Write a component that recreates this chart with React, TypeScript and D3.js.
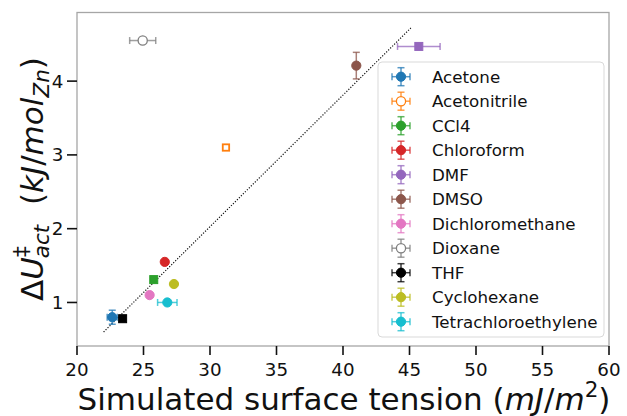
import React from 'react';
import * as d3 from 'd3';

// solvent data
const solvents = ['Acetone', 'Acetonitrile', 'CCl4', 'Chloroform', 'DMF', 'DMSO', 'Dichloromethane', 'Dioxane', 'THF', 'Cyclohexane', 'Tetrachloroethylene'];
const tension = [22.65, 31.2, 25.77, 26.6, 45.7, 41.0, 25.46, 24.94, 23.43, 27.29, 26.79];
const energy = [0.80, 3.10, 1.31, 1.55, 4.47, 4.21, 1.10, 4.55, 0.78, 1.25, 1.00];
const tensionErr = [0.38, 0.12, 0.1, 0.1, 1.6, 0.1, 0.12, 0.98, 0.2, 0.1, 0.73];
const energyErr = [0.095, 0.02, 0.02, 0.02, 0.02, 0.18, 0.02, 0.02, 0.04, 0.02, 0.02];
const markers = ['o', 's', 's', 'o', 's', 'o', 'o', 'o', 's', 'o', 'o'];
const hollow = [false, true, false, false, false, false, false, true, false, false, false];
const colors = ['#1f77b4', '#ff7f0e', '#2ca02c', '#d62728', '#9467bd', '#8c564b', '#e377c2', '#7f7f7f', '#000000', '#bcbd22', '#17becf'];

const xTicks = [20, 25, 30, 35, 40, 45, 50, 55, 60];
const yTicks = [1, 2, 3, 4];

// dotted trend line end points
const fitX = [22, 45.1];
const fitY = [0.6, 4.72];

const W = 627;
const H = 416;
const margin = { top: 12.5, right: 18, bottom: 70, left: 77 };

const App: React.FC = () => {
  const x = d3.scaleLinear().domain([20, 60]).range([margin.left, W - margin.right]);
  const y = d3.scaleLinear().domain([0.41, 4.93]).range([H - margin.bottom, margin.top]);

  const x0 = margin.left;
  const x1 = W - margin.right;
  const y0 = H - margin.bottom;
  const y1 = margin.top;

  const cap = 3.5;

  const drawMarker = (i: number, cx: number, cy: number, shape: string) => {
    const fill = hollow[i] ? '#fff' : colors[i];
    if (shape === 's') {
      const h = hollow[i] ? 3.2 : 4;
      return <rect x={cx - h} y={cy - h} width={2 * h} height={2 * h} fill={fill} stroke={colors[i]} strokeWidth={hollow[i] ? 1.8 : 1} />;
    }
    return <circle cx={cx} cy={cy} r={4.6} fill={fill} stroke={colors[i]} strokeWidth={hollow[i] ? 1.3 : 1} />;
  };

  const errorBars = (i: number, cx: number, cy: number, dx: number, dy: number) => {
    const c = colors[i];
    return (
      <g stroke={c} strokeWidth={1.5} strokeOpacity={0.75}>
        <line x1={cx - dx} x2={cx + dx} y1={cy} y2={cy} />
        <line x1={cx - dx} x2={cx - dx} y1={cy - cap} y2={cy + cap} />
        <line x1={cx + dx} x2={cx + dx} y1={cy - cap} y2={cy + cap} />
        <line x1={cx} x2={cx} y1={cy - dy} y2={cy + dy} />
        <line x1={cx - cap} x2={cx + cap} y1={cy - dy} y2={cy - dy} />
        <line x1={cx - cap} x2={cx + cap} y1={cy + dy} y2={cy + dy} />
      </g>
    );
  };

  const line = d3.line<number>().x((d, i) => x(fitX[i])).y((d) => y(d));

  // legend layout
  const legX = 378;
  const legY = 62;
  const legW = 226;
  const legH = 275;
  const rowH = 24.5;

  return (
    <svg width={W} height={H} style={{ position: 'absolute', left: 0, top: 0, fontFamily: 'DejaVu Sans' }}>
      <rect width={W} height={H} fill="#fff" />

      {/* trend line */}
      <path d={line(fitY) || ''} fill="none" stroke="#111" strokeWidth={1.2} strokeDasharray="1.2,1.6" />

      {/* data */}
      {solvents.map((s, i) => {
        const cx = x(tension[i]);
        const cy = y(energy[i]);
        const dx = x(tension[i] + tensionErr[i]) - cx;
        const dy = cy - y(energy[i] + energyErr[i]);
        return (
          <g key={s}>
            {errorBars(i, cx, cy, dx, dy)}
            {drawMarker(i, cx, cy, markers[i])}
          </g>
        );
      })}

      {/* spines */}
      <rect x={x0} y={y1} width={x1 - x0} height={y0 - y1} fill="none" stroke="#a6a6a6" strokeWidth={1.3} />

      {/* x ticks */}
      {xTicks.map((t) => (
        <g key={t}>
          <line x1={x(t)} x2={x(t)} y1={y0} y2={y0 + 9} stroke="#111" strokeWidth={1.6} />
          <text x={x(t)} y={y0 + 29.5} textAnchor="middle" fontSize={18.3} fill="#111">{t}</text>
        </g>
      ))}

      {/* y ticks */}
      {yTicks.map((t) => (
        <g key={t}>
          <line x1={x0 - 10} x2={x0} y1={y(t)} y2={y(t)} stroke="#111" strokeWidth={1.6} />
          <text x={x0 - 13.5} y={y(t)} dy="0.36em" textAnchor="end" fontSize={18.3} fill="#111">{t}</text>
        </g>
      ))}

      {/* axis labels */}
      <text x={(x0 + x1) / 2 + 1} y={410} textAnchor="middle" fontSize={31} fill="#111">
        Simulated surface tension (<tspan fontStyle="italic">mJ</tspan>/<tspan fontStyle="italic">m</tspan>
        <tspan fontSize={21.5} dy={-13}>2</tspan>
        <tspan dy={13}>)</tspan>
      </text>

      <text transform={`translate(43,179) rotate(-90)`} textAnchor="middle" fontSize={31} fill="#111">
        Δ<tspan fontStyle="italic">U</tspan>
        <tspan fontSize={21.5} dy={-14}>‡</tspan>
        <tspan fontSize={21.5} fontStyle="italic" dx={-12} dy={20}>act</tspan>
        <tspan dy={-6}>{'\u00a0\u00a0'}(</tspan>
        <tspan fontStyle="italic">kJ</tspan>/<tspan fontStyle="italic">mol</tspan>
        <tspan fontSize={21.5} fontStyle="italic" dy={6}>Zn</tspan>
        <tspan dy={-6}>)</tspan>
      </text>

      {/* legend */}
      <rect x={legX} y={legY} width={legW} height={legH} rx={4} fill="#fff" fillOpacity={0.8} stroke="#d9d9d9" strokeWidth={1} />
      {solvents.map((s, i) => {
        const cy = legY + 14.7 + i * rowH;
        const cx = legX + 23;
        return (
          <g key={'leg' + s}>
            {errorBars(i, cx, cy, 9, 9)}
            {drawMarker(i, cx, cy, 'o')}
            <text x={legX + 54} y={cy} dy="0.36em" fontSize={16.7} fill="#111">{s}</text>
          </g>
        );
      })}
    </svg>
  );
};

export default App;
